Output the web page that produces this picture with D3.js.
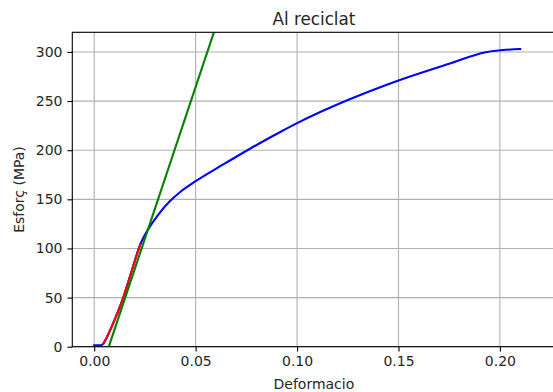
<!DOCTYPE html>
<html>
<head>
<meta charset="utf-8">
<script src="https://cdn.jsdelivr.net/npm/d3@7"></script>
<style>
  html, body { margin: 0; padding: 0; background: #fff; }
  svg { display: block; font-family: "DejaVu Sans", sans-serif; }
</style>
</head>
<body>
<svg id="chart" width="553" height="392"></svg>
<script>
// Stress-strain curve of recycled aluminium (strain, stress in MPa)
const curveStrain = [0, 0.0035, 0.0046, 0.007, 0.010, 0.0145, 0.018, 0.0227, 0.025, 0.028, 0.032, 0.037, 0.043, 0.050, 0.0636, 0.0768, 0.0917, 0.100, 0.125, 0.150, 0.175, 0.193, 0.210];
const curveStress = [1.5, 1.5, 3.5, 13, 27, 51, 74, 104, 114, 124, 135.5, 147.5, 158.5, 168.5, 185.5, 201.5, 218.5, 227.5, 251, 271, 288, 299.7, 303];

// Elastic region used for the linear fit
const elasticStrain = [0.0046, 0.007, 0.010, 0.0145, 0.018, 0.0227];
const elasticStress = [3.5, 13, 27, 51, 74, 104];

// Offset line (Young's modulus shifted along the strain axis)
const offsetStrain = [0.0072, 0.0590];
const offsetStress = [0, 320];

const xTicks = [0.00, 0.05, 0.10, 0.15, 0.20];
const yTicks = [0, 50, 100, 150, 200, 250, 300];

const title = "Al reciclat";
const xLabel = "Deformacio";
const yLabel = "Esforç (MPa)";

const plotLeft = 72.3, plotRight = 555.5, plotTop = 32.3, plotBottom = 346.7;

const svg = d3.select("#chart");

const x = d3.scaleLinear().domain([-0.0108, 0.2274]).range([plotLeft, plotRight]);
const y = d3.scaleLinear().domain([0, 320]).range([plotBottom, plotTop]);

const zip = (a, b) => a.map((v, i) => [v, b[i]]);

// grid
const grid = svg.append("g").attr("stroke", "#b0b0b0").attr("stroke-width", 1.1);
grid.selectAll("line.gx").data(xTicks).join("line").attr("class", "gx")
  .attr("x1", d => x(d)).attr("x2", d => x(d))
  .attr("y1", plotTop).attr("y2", plotBottom);
grid.selectAll("line.gy").data(yTicks).join("line").attr("class", "gy")
  .attr("x1", plotLeft).attr("x2", plotRight)
  .attr("y1", d => y(d)).attr("y2", d => y(d));

// clip region for the series
svg.append("clipPath").attr("id", "plotclip")
  .append("rect").attr("x", plotLeft).attr("y", plotTop)
  .attr("width", plotRight - plotLeft).attr("height", plotBottom - plotTop);

const smooth = d3.line().x(d => x(d[0])).y(d => y(d[1])).curve(d3.curveMonotoneX);
const straight = d3.line().x(d => x(d[0])).y(d => y(d[1]));
const series = svg.append("g").attr("clip-path", "url(#plotclip)")
  .attr("fill", "none").attr("stroke-width", 2.1)
  .attr("stroke-linejoin", "round").attr("stroke-linecap", "square");

series.append("path").datum(zip(curveStrain, curveStress))
  .attr("stroke", "#0000ff").attr("d", smooth);
series.append("path").datum(zip(elasticStrain, elasticStress))
  .attr("stroke", "#ff0000").attr("d", smooth);
series.append("path").datum(zip(offsetStrain, offsetStress))
  .attr("stroke", "#008000").attr("d", straight);

// axes
const xAxis = d3.axisBottom(x).tickValues(xTicks).tickFormat(d3.format(".2f"))
  .tickSize(4.9).tickPadding(4.9);
const yAxis = d3.axisLeft(y).tickValues(yTicks).tickFormat(d3.format("d"))
  .tickSize(4.9).tickPadding(4.9);

const gx = svg.append("g").attr("transform", `translate(0,${plotBottom})`).call(xAxis);
const gy = svg.append("g").attr("transform", `translate(${plotLeft},0)`).call(yAxis);
[gx, gy].forEach(g => {
  g.select(".domain").remove();
  g.selectAll(".tick line").attr("stroke", "#000").attr("stroke-width", 1.1);
  g.selectAll(".tick text").attr("fill", "#262626")
    .style("font-family", "DejaVu Sans").style("font-size", "14px");
});

// spines
svg.append("rect").attr("x", plotLeft).attr("y", plotTop)
  .attr("width", plotRight - plotLeft).attr("height", plotBottom - plotTop)
  .attr("stroke", "#000").attr("stroke-width", 1.1).attr("fill", "none");

// title and axis labels
svg.append("text").attr("x", (plotLeft + plotRight) / 2).attr("y", 24.5)
  .attr("text-anchor", "middle").style("font-size", "16.8px").attr("fill", "#262626")
  .text(title);
svg.append("text").attr("x", (plotLeft + plotRight) / 2).attr("y", 388.5)
  .attr("text-anchor", "middle").style("font-size", "14px").attr("fill", "#262626")
  .text(xLabel);
svg.append("text")
  .attr("transform", `translate(24,${(plotTop + plotBottom) / 2}) rotate(-90)`)
  .attr("text-anchor", "middle").style("font-size", "14px").attr("fill", "#262626")
  .text(yLabel);
</script>
</body>
</html>
